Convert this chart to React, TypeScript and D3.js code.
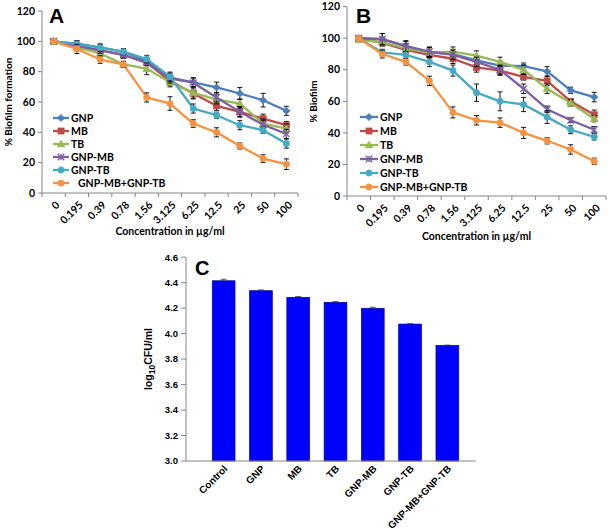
import React from "react";
import * as d3 from "d3";

const concentrations = ["0", "0.195", "0.39", "0.78", "1.56", "3.125", "6.25", "12.5", "25", "50", "100"];
const seriesNames = ["GNP", "MB", "TB", "GNP-MB", "GNP-TB", "GNP-MB+GNP-TB"];
const seriesColors = ["#4A7EBB", "#BE4B48", "#98B954", "#7D60A0", "#46AAC5", "#F69240"];
const seriesMarkers = ["diamond", "square", "triangle", "star", "circle", "circle"];

// Panel A values (% biofilm formation)
const aGNP = [100, 98.5, 96, 93, 87, 76, 73, 69.6, 65.6, 61.2, 54.2];
const aMB = [100, 97, 94, 91, 86, 74, 65.6, 57.5, 53.5, 49, 44.7];
const aTB = [100, 96, 92, 84.8, 82, 73, 66, 61.7, 59, 45.8, 42.5];
const aGNPMB = [100, 97, 94, 91, 86, 75.5, 72.7, 63, 53.5, 45, 39];
const aGNPTB = [100, 98.2, 95.8, 93.2, 88.3, 76.7, 55.7, 51.3, 44.7, 41.4, 32.6];
const aCombo = [100, 95, 88, 84.8, 63, 59, 45.8, 40, 31, 22.7, 19];
const aErrGNP = [1, 2, 2, 2, 2, 3, 3, 3.5, 4, 4.5, 3];
const aErrMB = [1, 2, 2, 2, 2, 3, 3, 3, 3, 3, 2.5];
const aErrTB = [1, 2, 2, 2, 4, 3, 4, 3, 3, 3, 3];
const aErrGNPMB = [1, 2, 2, 2, 2, 3, 3, 3, 3.5, 3, 3];
const aErrGNPTB = [1, 2, 2.5, 2, 2.5, 3, 3, 2, 3, 2, 3];
const aErrCombo = [1, 3, 2.5, 2, 3, 4.5, 2.5, 3, 2, 2.5, 3.5];

// Panel B values (% biofilm)
const bGNP = [100, 99.5, 95, 91, 90, 86, 82.7, 82.3, 79, 67, 62.7];
const bMB = [100, 97, 92.6, 89.5, 87, 81.5, 79.5, 75.5, 73, 60, 51.5];
const bTB = [99, 97.5, 93.5, 91, 91.5, 89, 85, 80, 68, 59, 49];
const bGNPMB = [100, 99.5, 95, 91.5, 89.5, 85, 80, 68, 55, 48, 42];
const bGNPTB = [100, 91, 89.5, 85, 79.5, 65.5, 60, 58, 50, 42, 37.5];
const bCombo = [100, 90, 85, 73, 53, 48, 46.5, 40, 35, 29.5, 22];
const bErrGNP = [1, 3.5, 3, 3, 3, 3, 3, 2, 3, 2, 3];
const bErrMB = [1, 2, 2, 2, 3, 3, 3, 2, 3, 1.5, 3];
const bErrTB = [1, 2, 3, 3, 3, 3, 3, 3, 3, 2, 2];
const bErrGNPMB = [1, 3.5, 3.5, 3, 3, 3, 3, 3, 2, 1.5, 2];
const bErrGNPTB = [1, 2, 2, 3, 3.5, 5.5, 6, 4.5, 4, 2.5, 2];
const bErrCombo = [1, 2.5, 2, 3, 3.5, 3, 3, 3.5, 2, 3, 2];

const yTicksAB = [0, 20, 40, 60, 80, 100, 120];

// Panel C values (log10 CFU/ml)
const cCategories = ["Control", "GNP", "MB", "TB", "GNP-MB", "GNP-TB", "GNP-MB+GNP-TB"];
const cValues = [4.415, 4.337, 4.285, 4.246, 4.199, 4.075, 3.907];
const cErrors = [0.012, 0.006, 0.006, 0.005, 0.008, 0.003, 0.003];
const cTicks = [3.0, 3.2, 3.4, 3.6, 3.8, 4.0, 4.2, 4.4, 4.6];

const seriesA = [aGNP, aMB, aTB, aGNPMB, aGNPTB, aCombo];
const errA = [aErrGNP, aErrMB, aErrTB, aErrGNPMB, aErrGNPTB, aErrCombo];
const seriesB = [bGNP, bMB, bTB, bGNPMB, bGNPTB, bCombo];
const errB = [bErrGNP, bErrMB, bErrTB, bErrGNPMB, bErrGNPTB, bErrCombo];

const FONT_AB = "Lato, 'Liberation Sans', sans-serif";
const FONT_C = "'Liberation Sans', Arial, sans-serif";
const AXIS = "#868686";

function Marker({ type, x, y, color }: { type: string; x: number; y: number; color: string }) {
  if (type === "diamond") {
    const s = 3.6;
    return <path d={`M${x},${y - s}L${x + s},${y}L${x},${y + s}L${x - s},${y}Z`} fill={color} stroke={color} strokeWidth={0.8} />;
  }
  if (type === "square") {
    const s = 3;
    return <rect x={x - s} y={y - s} width={2 * s} height={2 * s} fill={color} stroke={color} strokeWidth={0.8} />;
  }
  if (type === "triangle") {
    const s = 3.8;
    return <path d={`M${x},${y - s}L${x + s},${y + s * 0.75}L${x - s},${y + s * 0.75}Z`} fill={color} stroke={color} strokeWidth={0.8} />;
  }
  if (type === "star") {
    const s = 3.3;
    return (
      <g stroke={color} strokeWidth={1.3}>
        <line x1={x - s} y1={y - s} x2={x + s} y2={y + s} />
        <line x1={x - s} y1={y + s} x2={x + s} y2={y - s} />
        <line x1={x} y1={y - s} x2={x} y2={y + s} />
      </g>
    );
  }
  return <circle cx={x} cy={y} r={3.1} fill={color} stroke={color} strokeWidth={0.8} />;
}

type LinePanelProps = {
  x0: number; x1: number; yTop: number; yBottom: number;
  data: number[][]; errs: number[][];
  letter: string; letterX: number; letterY: number;
  yLabel: string; yLabelX: number; xLabelY: number;
  legendX: number; legendY: number; legendStep: number; legendLen: number; lastDx: number;
};

function LinePanel(p: LinePanelProps) {
  const x = d3.scaleBand<string>().domain(concentrations).range([p.x0, p.x1]).padding(0);
  const y = d3.scaleLinear().domain([0, 120]).range([p.yBottom, p.yTop]);
  const cx = (c: string) => (x(c) as number) + x.bandwidth() / 2;
  const line = d3.line<number>().x((_, i) => cx(concentrations[i])).y((v) => y(v));
  const boundaries = d3.range(concentrations.length + 1).map((i) => p.x0 + i * x.step());
  return (
    <g>
      <line x1={p.x0} y1={y(0)} x2={p.x0} y2={y(120)} stroke={AXIS} strokeWidth={1} />
      <line x1={p.x0} y1={y(0)} x2={p.x1} y2={y(0)} stroke={AXIS} strokeWidth={1} />
      {yTicksAB.map((t) => (
        <g key={t}>
          <line x1={p.x0 - 4} x2={p.x0} y1={y(t)} y2={y(t)} stroke={AXIS} />
          <text x={p.x0 - 7} y={y(t)} dy="0.35em" textAnchor="end" fontFamily={FONT_AB} fontWeight="bold" fontSize={10.5} fill="#000">{t}</text>
        </g>
      ))}
      {boundaries.map((bx, i) => (
        <line key={i} x1={bx} x2={bx} y1={y(0)} y2={y(0) + 4} stroke={AXIS} />
      ))}
      {concentrations.map((c) => (
        <text key={c} transform={`translate(${cx(c) + 4},${y(0) + 10}) rotate(-45)`} textAnchor="end" dy="0.35em" fontFamily={FONT_AB} fontWeight="bold" fontSize={10.5} fill="#000">{c}</text>
      ))}
      <text x={(p.x0 + p.x1) / 2} y={p.xLabelY} textAnchor="middle" fontFamily={FONT_AB} fontWeight="bold" fontSize={10.5} fill="#000">Concentration in µg/ml</text>
      <text transform={`translate(${p.yLabelX},${(y(0) + y(120)) / 2}) rotate(-90)`} textAnchor="middle" fontFamily={FONT_AB} fontWeight="bold" fontSize={10} fill="#000">{p.yLabel}</text>
      <text x={p.letterX} y={p.letterY} fontFamily={FONT_C} fontWeight="bold" fontSize={21} fill="#000">{p.letter}</text>
      {p.data.map((vals, si) => (
        <g key={si}>
          <path d={line(vals) as string} fill="none" stroke={seriesColors[si]} strokeWidth={2.3} strokeLinejoin="round" />
          {vals.map((v, i) => {
            const px = cx(concentrations[i]);
            const e = p.errs[si][i];
            return (
              <g key={i} stroke="#000" strokeWidth={0.9}>
                <line x1={px} x2={px} y1={y(v + e)} y2={y(v - e)} />
                <line x1={px - 2.5} x2={px + 2.5} y1={y(v + e)} y2={y(v + e)} />
                <line x1={px - 2.5} x2={px + 2.5} y1={y(v - e)} y2={y(v - e)} />
              </g>
            );
          })}
          {vals.map((v, i) => (
            <Marker key={"m" + i} type={seriesMarkers[si]} x={cx(concentrations[i])} y={y(v)} color={seriesColors[si]} />
          ))}
        </g>
      ))}
      {seriesNames.map((n, i) => {
        const ly = p.legendY + i * p.legendStep;
        return (
          <g key={n}>
            <line x1={p.legendX} x2={p.legendX + p.legendLen} y1={ly} y2={ly} stroke={seriesColors[i]} strokeWidth={2.3} />
            <Marker type={seriesMarkers[i]} x={p.legendX + p.legendLen / 2} y={ly} color={seriesColors[i]} />
            <text x={p.legendX + p.legendLen + 2 + (i === 5 ? p.lastDx : 0)} y={ly} dy="0.35em" fontFamily={FONT_AB} fontWeight="bold" fontSize={10.5} fill="#000">{n}</text>
          </g>
        );
      })}
    </g>
  );
}

function BarPanel() {
  const axisX = 186;
  const axisEnd = 476;
  const x = d3.scaleBand<string>().domain(cCategories).range([205, 466]).paddingInner(0.39).paddingOuter(0.195);
  const y = d3.scaleLinear().domain([3.0, 4.6]).range([461, 257.2]);
  return (
    <g>
      {cCategories.map((c, i) => {
        const v = cValues[i];
        const bx = x(c) as number;
        const mid = bx + x.bandwidth() / 2;
        const e = cErrors[i];
        return (
          <g key={c}>
            <rect x={bx} y={y(v)} width={x.bandwidth()} height={y(3.0) - y(v)} fill="#0000FF" stroke="#00008B" strokeWidth={0.7} />
            <g stroke="#333" strokeWidth={0.8}>
              <line x1={mid} x2={mid} y1={y(v + e)} y2={y(v)} />
              <line x1={mid - 3} x2={mid + 3} y1={y(v + e)} y2={y(v + e)} />
            </g>
            <text transform={`translate(${mid + 2},${y(3.0) + 6}) rotate(-45)`} textAnchor="end" dy="0.35em" fontFamily={FONT_C} fontWeight="bold" fontSize={10} fill="#000">{c}</text>
          </g>
        );
      })}
      <line x1={axisX} y1={y(3.0)} x2={axisX} y2={y(4.6)} stroke={AXIS} />
      <line x1={axisX} y1={y(3.0)} x2={axisEnd} y2={y(3.0)} stroke={AXIS} />
      {cTicks.map((t) => (
        <g key={t}>
          <line x1={axisX - 5} x2={axisX} y1={y(t)} y2={y(t)} stroke={AXIS} />
          <text x={axisX - 8} y={y(t)} dy="0.35em" textAnchor="end" fontFamily={FONT_C} fontWeight="bold" fontSize={9.5} fill="#000">{t.toFixed(1)}</text>
        </g>
      ))}
      <text transform={`translate(152,${(y(3.0) + y(4.6)) / 2}) rotate(-90)`} textAnchor="middle" fontFamily={FONT_C} fontWeight="bold" fontSize={10.5} fill="#000">
        log<tspan fontSize={8.5} dy={3}>10</tspan><tspan dy={-3}>CFU/ml</tspan>
      </text>
      <text x={195} y={275} fontFamily={FONT_C} fontWeight="bold" fontSize={20} fill="#000">C</text>
    </g>
  );
}

export default function App() {
  return (
    <svg width={610} height={530} style={{ display: "block", position: "absolute", left: 0, top: 0, background: "#fff" }}>
      <rect width={610} height={530} fill="#fff" />
      <LinePanel x0={42} x1={298} yTop={11} yBottom={193} data={seriesA} errs={errA}
        letter="A" letterX={49} letterY={23} yLabel="% Biofilm formation" yLabelX={12} xLabelY={235}
        legendX={53} legendY={118} legendStep={13} legendLen={16} lastDx={7} />
      <LinePanel x0={347} x1={606} yTop={6.7} yBottom={196} data={seriesB} errs={errB}
        letter="B" letterX={356} letterY={23} yLabel="% Biofilm" yLabelX={317} xLabelY={240}
        legendX={360} legendY={117} legendStep={14} legendLen={18} lastDx={0} />
      <BarPanel />
    </svg>
  );
}
